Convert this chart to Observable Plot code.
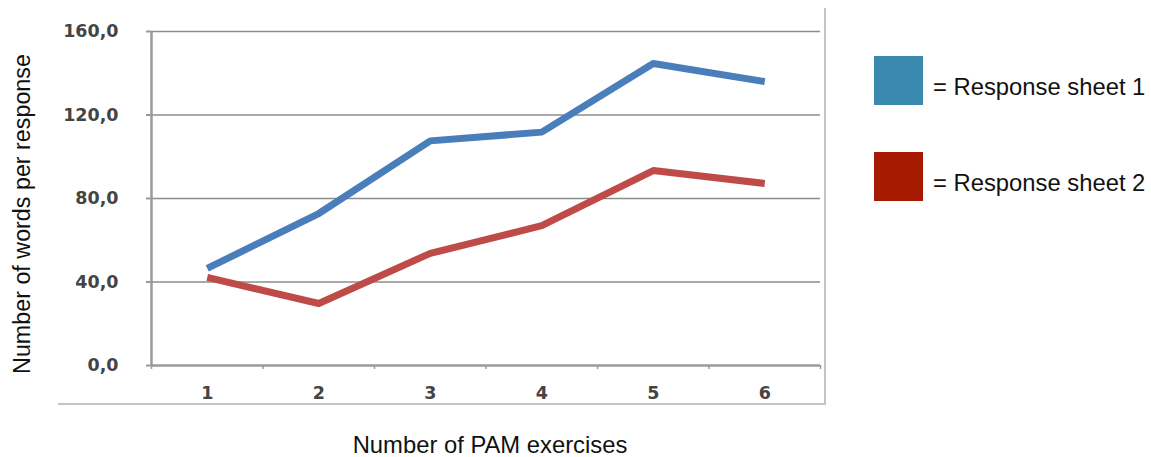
<!DOCTYPE html>
<html>
<head>
<meta charset="utf-8">
<script src="https://cdn.jsdelivr.net/npm/d3@7"></script>
<script src="https://cdn.jsdelivr.net/npm/@observablehq/plot@0.6"></script>
<style>
  html, body { margin: 0; padding: 0; background: #fff; }
  #wrap { position: relative; width: 1151px; height: 457px; overflow: hidden; }
  #wrap svg { position: absolute; left: 0; top: 0; }
  .ytitle { position: absolute; left: 22px; top: 214px; transform: translate(-50%, -50%) rotate(-90deg);
            white-space: nowrap; font: 23.3px "Liberation Sans", Arial, sans-serif; color: #111; }
  .xtitle { position: absolute; left: 490px; top: 431px; transform: translateX(-50%);
            white-space: nowrap; font: 23.8px "Liberation Sans", Arial, sans-serif; color: #111; }
  .frameR { position: absolute; left: 824px; top: 8px; width: 0; height: 396px; border-left: 2px solid #c4c4c4; }
  .frameB { position: absolute; left: 58px; top: 403px; width: 768px; height: 0; border-top: 2px solid #c4c4c4; }
  .legend { position: absolute; left: 874px; top: 56px; font: 23.8px "Liberation Sans", Arial, sans-serif; color: #111; }
  .legend .item { display: flex; align-items: center; height: 49px; margin-bottom: 47px; }
  .legend .sw { width: 49px; height: 49px; margin-right: 10px; }
  .legend .lab { position: relative; top: 6px; white-space: nowrap; }
</style>
</head>
<body>
<div id="wrap"></div>
<script>
// ---- data ----
const exercises = [1, 2, 3, 4, 5, 6];
const sheet1 = [46.5, 72.8, 107.6, 111.8, 144.7, 136.0];
const sheet2 = [42.2, 29.7, 53.7, 67.0, 93.4, 87.2];
const seriesNames = ["Response sheet 1", "Response sheet 2"];
const lineColors = ["#4a7ebb", "#be4b48"];
const legendColors = ["#3a8ab0", "#a51a00"];
const yTicks = [0, 40, 80, 120, 160];
const xTitle = "Number of PAM exercises";
const yTitle = "Number of words per response";

const rows = [];
exercises.forEach((e, i) => {
  rows.push({exercise: e, value: sheet1[i], series: seriesNames[0]});
  rows.push({exercise: e, value: sheet2[i], series: seriesNames[1]});
});
const bandEdges = d3.range(exercises.length + 1).map(i => exercises[0] - 0.5 + i);
const fmt = d => d.toFixed(1).replace(".", ",");

const chart = Plot.plot({
  width: 1151,
  height: 457,
  marginLeft: 151,
  marginRight: 331,
  marginTop: 31,
  marginBottom: 92,
  style: {fontFamily: "DejaVu Sans, Verdana, sans-serif", fontSize: "17.5px", background: "transparent"},
  x: {domain: [bandEdges[0], bandEdges[bandEdges.length - 1]]},
  y: {domain: [0, 160]},
  color: {domain: seriesNames, range: lineColors},
  marks: [
    Plot.gridY(yTicks.filter(t => t > 0), {stroke: "#8c8c8c", strokeOpacity: 1, strokeWidth: 1.5}),
    Plot.axisY({ticks: yTicks, tickFormat: fmt, tickSize: 5, tickPadding: 28, stroke: "#9a9a9a",
                strokeWidth: 2, fill: "#444", fontWeight: "bold", label: null}),
    Plot.axisX({ticks: exercises, tickSize: 0, tickPadding: 21, tickFormat: d => String(d),
                fill: "#444", fontWeight: "bold", label: null}),
    Plot.axisX({ticks: bandEdges, tickSize: 4, tickFormat: () => "", stroke: "#9a9a9a", strokeWidth: 1.5, label: null}),
    Plot.ruleX([bandEdges[0]], {stroke: "#9a9a9a", strokeWidth: 2.5}),
    Plot.ruleY([0], {stroke: "#9a9a9a", strokeWidth: 2.5}),
    Plot.line(rows, {x: "exercise", y: "value", z: "series", stroke: "series",
                     strokeWidth: 7, strokeLinecap: "butt", strokeLinejoin: "round"})
  ]
});
const wrap = document.getElementById("wrap");
wrap.appendChild(chart);

// decorations: chart frame, axis titles, legend
for (const cls of ["frameR", "frameB"]) {
  const d = document.createElement("div"); d.className = cls; wrap.appendChild(d);
}
const yt = document.createElement("div"); yt.className = "ytitle"; yt.textContent = yTitle; wrap.appendChild(yt);
const xt = document.createElement("div"); xt.className = "xtitle"; xt.textContent = xTitle; wrap.appendChild(xt);
const lg = document.createElement("div"); lg.className = "legend";
seriesNames.forEach((name, i) => {
  const it = document.createElement("div"); it.className = "item";
  const sw = document.createElement("div"); sw.className = "sw"; sw.style.background = legendColors[i];
  const lab = document.createElement("span"); lab.className = "lab"; lab.textContent = "= " + name;
  it.appendChild(sw); it.appendChild(lab); lg.appendChild(it);
});
wrap.appendChild(lg);
</script>
</body>
</html>
